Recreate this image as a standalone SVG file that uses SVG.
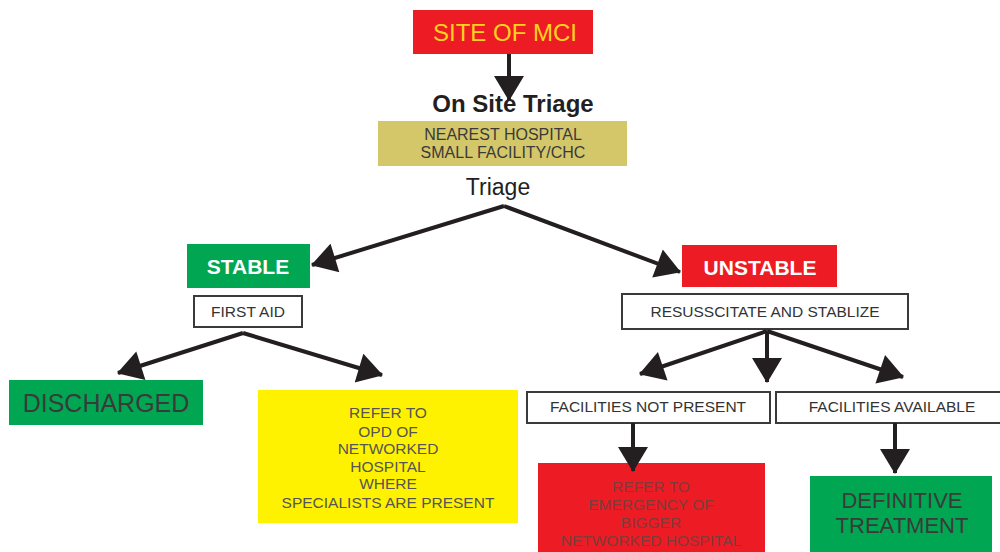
<svg xmlns="http://www.w3.org/2000/svg" width="1000" height="552" viewBox="0 0 1000 552">
<defs>
<marker id="ah" markerUnits="userSpaceOnUse" markerWidth="26" markerHeight="30" viewBox="0 0 25 30" refX="24" refY="15" orient="auto">
<path d="M0,0 L25,15 L0,30 z" fill="#231F20"/>
</marker>
<style>
text{font-family:"Liberation Sans",Arial,sans-serif;text-anchor:middle}
.con{stroke:#231F20;stroke-width:4;fill:none;marker-end:url(#ah)}
.wbox{fill:#fff;stroke:#3a3a3a;stroke-width:2}
.small{font-size:15.5px;fill:#333}
.big{font-size:22px;fill:#3a3a3a}
.lbl{font-size:21px;font-weight:bold;fill:#fff}
.yel{font-size:15.5px;fill:#555}
.red{font-size:15.5px;fill:#7d3b3b}
</style>
</defs>
<rect width="1000" height="552" fill="#fff"/>
<g id="site">
<rect x="413" y="10" width="180" height="44" fill="#ED1C24"/>
<text x="505" y="41" style="font-size:24px;fill:#FFD21F">SITE OF MCI</text>
</g>
<g id="onsite">
<text x="513" y="112" style="font-size:24px;font-weight:bold;fill:#231F20">On Site Triage</text>
</g>
<g id="nearest">
<rect x="378" y="121" width="249" height="45" fill="#D3C76A"/>
<text x="503" y="140" style="font-size:16px;fill:#3a3a3a">NEAREST HOSPITAL</text>
<text x="503" y="158" style="font-size:16px;fill:#3a3a3a">SMALL FACILITY/CHC</text>
</g>
<g id="triage">
<text x="498" y="195" style="font-size:23px;fill:#231F20">Triage</text>
</g>
<g id="stable">
<rect x="187" y="244" width="123" height="44" fill="#00A651"/>
<text x="248" y="274" class="lbl">STABLE</text>
</g>
<g id="firstaid">
<rect x="194" y="296" width="108" height="31" class="wbox"/>
<text x="248" y="317" class="small">FIRST AID</text>
</g>
<g id="unstable">
<rect x="682" y="245" width="155" height="42" fill="#ED1C24"/>
<text x="760" y="275" class="lbl">UNSTABLE</text>
</g>
<g id="resus">
<rect x="622" y="294" width="286" height="35" class="wbox"/>
<text x="765" y="317" class="small">RESUSSCITATE AND STABLIZE</text>
</g>
<g id="discharged">
<rect x="9" y="380" width="194" height="45" fill="#00A651"/>
<text x="106" y="412" class="big" style="font-size:25px">DISCHARGED</text>
</g>
<g id="opd">
<rect x="258" y="390" width="260" height="133" fill="#FFF200"/>
<text x="388" y="418" class="yel">REFER TO</text>
<text x="388" y="437" class="yel">OPD OF</text>
<text x="388" y="454" class="yel">NETWORKED</text>
<text x="388" y="472" class="yel">HOSPITAL</text>
<text x="388" y="489" class="yel">WHERE</text>
<text x="388" y="508" class="yel">SPECIALISTS ARE PRESENT</text>
</g>
<g id="notpresent">
<rect x="527" y="392" width="243" height="31" class="wbox"/>
<text x="648" y="412" class="small">FACILITIES NOT PRESENT</text>
</g>
<g id="available">
<rect x="776" y="392" width="230" height="31" class="wbox"/>
<text x="892" y="412" class="small">FACILITIES AVAILABLE</text>
</g>
<g id="emergency">
<rect x="538" y="463" width="227" height="95" fill="#ED1C24"/>
<text x="651" y="492" class="red">REFER TO</text>
<text x="651" y="510" class="red">EMERGENCY OF</text>
<text x="651" y="528" class="red">BIGGER</text>
<text x="651" y="546" class="red">NETWORKED HOSPITAL</text>
</g>
<g id="definitive">
<rect x="810" y="476" width="182" height="76" fill="#00A651"/>
<text x="902" y="508" class="big">DEFINITIVE</text>
<text x="902" y="533" class="big">TREATMENT</text>
</g>
<g id="connectors">
<path class="con" d="M509,54 L509,100"/>
<path class="con" d="M504,206 L312,265"/>
<path class="con" d="M504,206 L680,272"/>
<path class="con" d="M243,333 L118,373"/>
<path class="con" d="M243,333 L382,375"/>
<path class="con" d="M767,331 L640,374"/>
<path class="con" d="M767,331 L767,382"/>
<path class="con" d="M767,331 L903,377"/>
<path class="con" d="M633,423 L633,471"/>
<path class="con" d="M895,423 L895,473"/>
</g>
</svg>
